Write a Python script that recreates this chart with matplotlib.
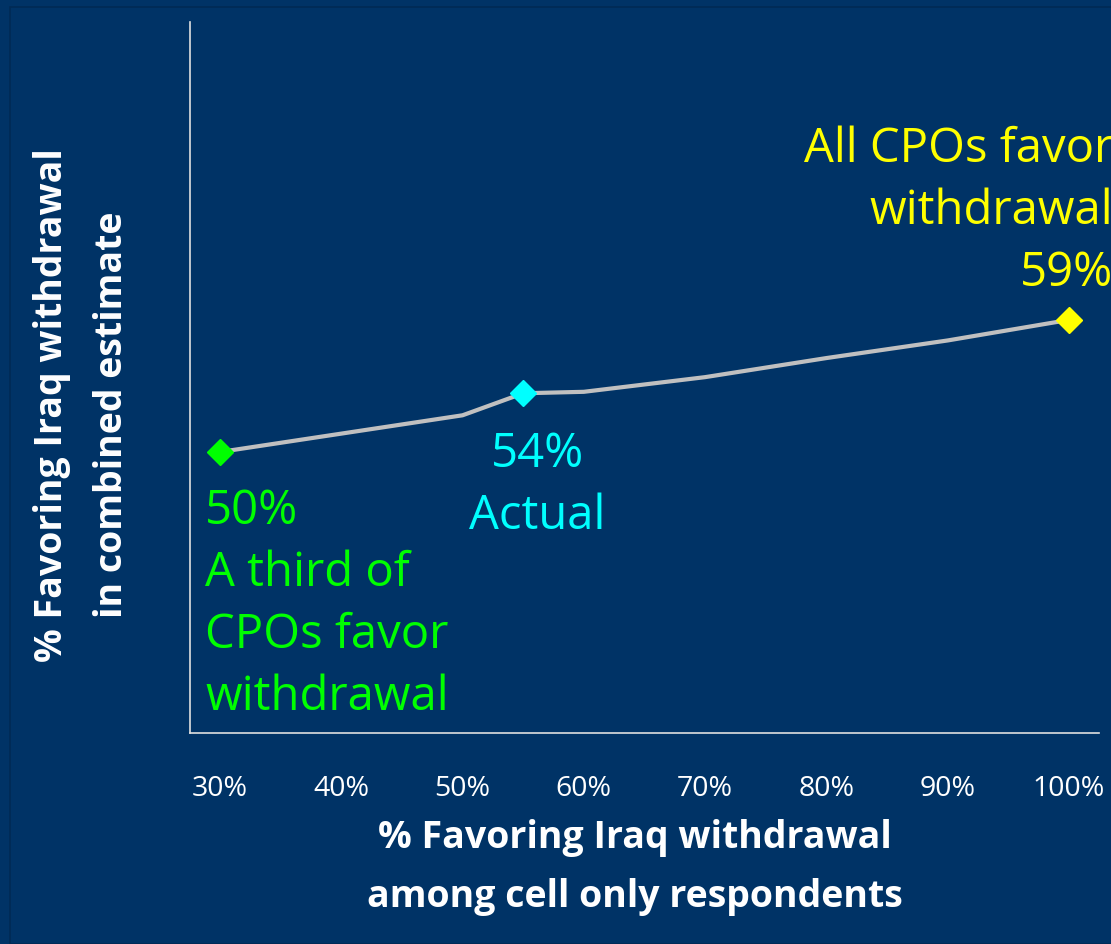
import matplotlib
matplotlib.use("Agg")
import matplotlib.pyplot as plt
from matplotlib.patches import Rectangle

# Share favoring withdrawal among cell-only respondents vs. combined estimate
cell_only_pct = [30, 50, 55, 60, 70, 80, 90, 100]
combined_pct = [50, 52.5, 54, 54.1, 55.1, 56.4, 57.6, 59]

tick_values = [30, 40, 50, 60, 70, 80, 90, 100]
tick_labels = ["30%", "40%", "50%", "60%", "70%", "80%", "90%", "100%"]

# Highlighted scenarios
scenario_x = [30, 55, 100]
scenario_y = [50, 54, 59]
scenario_colors = ["#00ff00", "#00ffff", "#ffff00"]
scenario_text = ["A third of\nCPOs favor\nwithdrawal", "Actual", "All CPOs favor\nwithdrawal"]

BG = "#003366"
FONT = "Open Sans"

W, H = 1111, 944
fig = plt.figure(figsize=(W / 100, H / 100), dpi=100, facecolor=BG)
fig.patches.append(Rectangle((10 / W, 0), 1, 1 - 7 / H, transform=fig.transFigure,
                             facecolor="none", edgecolor="#002a55", lw=1.2))

ax = fig.add_axes([190 / W, 1 - 733 / H, (1099 - 190) / W, (733 - 22) / H])
ax.set_facecolor(BG)
ax.set_xlim(27.53, 102.47)
ax.set_ylim(30.85, 79.3)

ax.plot(cell_only_pct, combined_pct, color="#c0c0c0", lw=3, zorder=2)
for x, y, c in zip(scenario_x, scenario_y, scenario_colors):
    ax.plot([x], [y], marker="D", ms=13.5, color=c, mec=c, zorder=3)

for side in ("top", "right"):
    ax.spines[side].set_visible(False)
for side in ("left", "bottom"):
    ax.spines[side].set_color("#e0e0e0")
    ax.spines[side].set_linewidth(1.2)

ax.set_xticks(tick_values)
ax.set_xticklabels(tick_labels, fontfamily=FONT, fontsize=20.5, color="white")
ax.set_yticks([])
ax.tick_params(axis="x", length=0, pad=30)

# Scenario labels
lbl = dict(fontfamily=FONT, fontsize=34, textcoords="offset pixels", linespacing=1.39)
ax.annotate(f"{scenario_y[0]}%\n" + scenario_text[0], xy=(scenario_x[0], scenario_y[0]),
            xytext=(-15, -36), ha="left", va="top", color=scenario_colors[0], **lbl)
ax.annotate(f"{scenario_y[1]}%\n" + scenario_text[1], xy=(scenario_x[1], scenario_y[1]),
            xytext=(14, -37), ha="center", va="top", color=scenario_colors[1],
            multialignment="center", **lbl)
ax.annotate(scenario_text[2] + f"\n{scenario_y[2]}%", xy=(scenario_x[2], scenario_y[2]),
            xytext=(44, 23), ha="right", va="bottom", color=scenario_colors[2],
            multialignment="right", annotation_clip=False, **lbl)

# Axis titles
ttl = dict(fontfamily=FONT, fontsize=27, fontweight="bold", color="white",
           ha="center", va="center")
fig.text(635 / W, 1 - 838 / H, "% Favoring Iraq withdrawal", **ttl)
fig.text(635 / W, 1 - 897 / H, "among cell only respondents", **ttl)
fig.text(52 / W, 1 - 405 / H, "% Favoring Iraq withdrawal", rotation=90, **ttl)
fig.text(112 / W, 1 - 415 / H, "in combined estimate", rotation=90, **ttl)

fig.savefig("out.png", dpi=100, facecolor=BG)
